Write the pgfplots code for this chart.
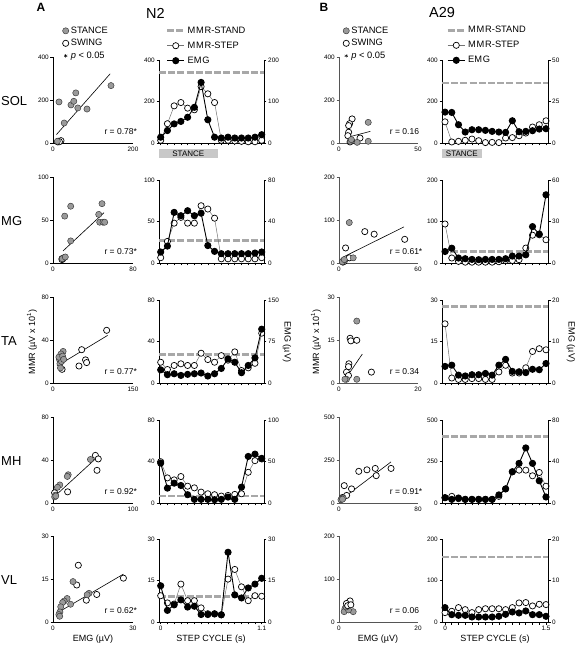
\documentclass[border=0pt]{standalone}
\usepackage{fontspec}
\setmainfont{Liberation Sans}
\usepackage{pgfplots}
\usepackage{pgfplotstable}
\pgfplotsset{compat=1.18}

\newcommand{\tlf}{\fontsize{6.4}{7}\selectfont}
\newcommand{\legfont}{\fontsize{9.3}{10}\selectfont}
\newcommand{\rfont}{\fontsize{8.5}{9}\selectfont}
\newcommand{\labfont}{\fontsize{9}{10}\selectfont}

\definecolor{stgray}{HTML}{9A9A9A}
\definecolor{standgray}{HTML}{A8A8A8}
\definecolor{bargray}{HTML}{C8C8C8}
\definecolor{axgray}{HTML}{555555}

\pgfplotsset{
  base/.style={scale only axis, clip=false, tick align=outside, major tick length=2.5pt,
    tick style={line width=0.6pt, black}, ticklabel style={font=\tlf},
    /pgf/number format/assume math mode=true, /pgf/number format/1000 sep={},
    yticklabel style={inner sep=1.5pt}, xticklabel style={inner sep=1.5pt}},
  scatA/.style={base, width=80pt, height=86pt, axis x line*=bottom, axis y line*=left,
    axis line style={-, line width=0.6pt, black}, xmin=0, ymin=0, major x tick style={draw=none}},
  scatB/.style={base, width=79pt, height=86pt, axis x line*=bottom, axis y line*=left,
    axis line style={-, line width=0.9pt, axgray}, tick style={line width=0.9pt, axgray}, xmin=0, ymin=0, major x tick style={draw=none}},
  tsA/.style={base, width=105pt, height=83pt, xmin=-0.25, xmax=15.34, ymin=0},
  tsB/.style={base, width=106pt, height=83pt, xmin=-0.45, xmax=15.3, ymin=0},
  tsleft/.style={axis x line*=bottom, axis y line*=left, axis line style={-, line width=0.6pt, black}, xtick={0,...,15}, xticklabels={}},
  tsright/.style={axis y line*=right, axis x line=none, axis line style={-, line width=0.6pt, black}},
  stance/.style={only marks, mark=*, mark size=3.1pt, mark options={fill=stgray, draw=black!80, line width=0.45pt}},
  swing/.style={only marks, mark=*, mark size=3.1pt, mark options={fill=white, draw=black, line width=0.7pt}},
  fitl/.style={black, line width=0.6pt, mark=none},
  stand/.style={standgray, line width=2.6pt, dash pattern=on 7pt off 2.2pt, mark=none},
  mstep/.style={black!55, line width=0.5pt, mark=*, mark size=3.1pt, mark options={fill=white, draw=black, line width=0.7pt, solid}},
  emgs/.style={black, line width=0.9pt, mark=*, mark size=3.1pt, mark options={fill=black, draw=black, solid}},
  dotleg/.style={legend image code/.code={\draw[##1] plot coordinates {(3.2pt,0pt)};}},
  scleg/.style={legend style={at={(#1)}, anchor=west, draw=none, fill=none, inner sep=0pt, row sep=0.5pt, font=\legfont}, legend cell align=left},
  tsleg/.style={legend style={at={(#1)}, anchor=west, draw=none, fill=none, inner sep=0pt, row sep=3pt, font=\legfont}, legend cell align=left},
}

% step-cycle bins: k, MMR-STEP (left axis), EMG (right axis)
\pgfplotstableread{
k mmr emg
0 13 14
1 93 30
2 179 46
3 195 52
4 168 62
5 160 86
6 272 146
7 237 56
8 195 14
9 13 12
10 13 14
11 10 12
12 8 12
13 6 12
14 6 14
15 13 20
}\tsSOLA
\pgfplotstableread{
k mmr emg
0 102 18.6
1 5 18.4
2 8 11
3 13 6.6
4 19 8
5 11 8
6 2 7.6
7 3 7
8 2 6.6
9 24 6.4
10 26 13.4
11 35 6.8
12 48 7
13 77 7.4
14 88 8.4
15 107 8.6
}\tsSOLB
\pgfplotstableread{
k mmr emg
0 6.4 10.6
1 26 16.3
2 48 48.8
3 55 45.6
4 48 50.4
5 48 45.6
6 69 48
7 65 16.8
8 54 11.2
9 5 9
10 5 9
11 5 9
12 5 9
13 5 9
14 5 9.6
15 6.4 10.6
}\tsMGA
\pgfplotstableread{
k mmr emg
0 94 8.3
1 12 10.7
2 4 3.6
3 2 3.1
4 2 2.6
5 2 2.4
6 2 2.6
7 2 2.6
8 3 2.6
9 6 3.1
10 6 5
11 8 5
12 36 5.9
13 67 26.3
14 68 20.9
15 56 49.3
}\tsMGB
\pgfplotstableread{
k mmr emg
0 20 23.8
1 13 15
2 16.9 16.7
3 18.5 13.7
4 16.9 15.6
5 16.9 16.7
6 28.7 18
7 22.6 12.6
8 20 16.7
9 26.4 26.3
10 22 43.5
11 30 37.5
12 12 18.6
13 14.6 31.7
14 19 45.4
15 48 97.3
}\tsTAA
\pgfplotstableread{
k mmr emg
0 21.4 4
1 1.8 4.3
2 1.3 1.9
3 1.3 1.7
4 1.6 2
5 1.6 2
6 1.3 2.3
7 1.3 1.9
8 4 4.3
9 6.4 5.7
10 3.6 2.8
11 3.6 2.7
12 5.5 2.5
13 11.4 3.3
14 12.4 3.2
15 12 4.7
}\tsTAB
\pgfplotstableread{
k mmr emg
0 39.8 48.1
1 24.2 17.9
2 22.3 23.9
3 25.5 21.1
4 16.2 10
5 14.6 4.4
6 10.5 4.4
7 8.9 4.4
8 8 4
9 6.7 4.4
10 7.3 7.1
11 8.3 4.4
12 8.9 19.1
13 29.6 56.1
14 40.8 58.9
15 42.4 53.8
}\tsMHA
\pgfplotstableread{
k mmr emg
0 32 5.1
1 40 3.5
2 26 4.8
3 22 3.5
4 22 3.5
5 22 3.5
6 22 3.5
7 22 3.5
8 40 7.8
9 85 13.6
10 188 30.1
11 198 38.2
12 198 53.1
13 164 38.2
14 184 21.4
15 101 5.8
}\tsMHB
\pgfplotstableread{
k mmr emg
0 9.5 13.1
1 6.9 4.2
2 6.5 6.2
3 13.7 8
4 7.7 5.4
5 7.7 5.7
6 5.1 2.7
7 3 2.7
8 3 2.9
9 2.6 2.6
10 15.5 25.2
11 19 9.8
12 12.7 8.7
13 7.7 12.3
14 9.5 13.7
15 9.3 15.8
}\tsVLA
\pgfplotstableread{
k mmr emg
0 22.6 3.47
1 25.8 1.77
2 34.7 1.61
3 29.8 1.61
4 22.6 1.21
5 29.8 1.21
6 32 1.21
7 32 1.21
8 32 1.37
9 29.8 1.85
10 34.7 2.42
11 46 2.18
12 46.8 2.66
13 38.7 1.77
14 42.7 1.77
15 42 1.37
}\tsVLB

\begin{document}
\begin{tikzpicture}
\useasboundingbox (0,0) rectangle (576pt,646pt);

% ---------- titles and labels ----------
\node[font=\bfseries\fontsize{12}{12}\selectfont] at (41pt,639pt) {A};
\node[font=\bfseries\fontsize{12}{12}\selectfont] at (324pt,639pt) {B};
\node[font=\fontsize{14.5}{15}\selectfont] at (155.5pt,632.7pt) {N2};
\node[font=\fontsize{14.5}{15}\selectfont] at (442pt,633pt) {A29};
\node[anchor=west, inner sep=0pt, font=\fontsize{13}{13}\selectfont] at (1pt,545.3pt) {SOL};
\node[anchor=west, inner sep=0pt, font=\fontsize{13}{13}\selectfont] at (1pt,425pt) {MG};
\node[anchor=west, inner sep=0pt, font=\fontsize{13}{13}\selectfont] at (1pt,305pt) {TA};
\node[anchor=west, inner sep=0pt, font=\fontsize{13}{13}\selectfont] at (1pt,185pt) {MH};
\node[anchor=west, inner sep=0pt, font=\fontsize{13}{13}\selectfont] at (1pt,66pt) {VL};
\node[rotate=90, font=\labfont] at (32pt,304pt) {MMR (µV x 10\textsuperscript{1})};
\node[rotate=90, font=\labfont] at (316pt,304pt) {MMR (µV x 10\textsuperscript{1})};
\node[rotate=-90, font=\labfont] at (287pt,304pt) {EMG (µV)};
\node[rotate=-90, font=\labfont] at (571pt,304pt) {EMG (µV)};
\node[font=\labfont] at (93pt,7pt) {EMG (µV)};
\node[font=\labfont] at (211pt,7pt) {STEP CYCLE (s)};
\node[font=\labfont] at (378pt,7pt) {EMG (µV)};
\node[font=\labfont] at (495pt,7pt) {STEP CYCLE (s)};

% ================= ROW 1: SOL =================
\begin{axis}[scatA, at={(53pt,503pt)}, anchor=south west, xmax=200, ymax=400, xtick={0,200}, ytick={0,200,400}, scleg={0.1175,1.159}]
\addlegendimage{stance,dotleg}\addlegendentry{STANCE}
\addlegendimage{swing,dotleg}\addlegendentry{SWING}
\addlegendimage{only marks, mark=asterisk, mark size=1.8pt, black, dotleg}\addlegendentry{\textit{p} < 0.05}
\addplot[swing, forget plot] coordinates {(14,8) (20,11) (12,5) (16,6)};
\addplot[stance, forget plot] coordinates {(15,191) (57,233) (45,177) (52,194) (62,163) (85,158) (145,267) (28,93) (11,8)};
\addplot[fitl, forget plot] coordinates {(8.5,39) (143,322)};
\node[anchor=west, font=\rfont] at (rel axis cs:0.6,0.13) {r = 0.78*};
\end{axis}
\begin{axis}[tsA, tsleft, at={(159pt,503pt)}, anchor=south west, ymax=400, ytick={0,200,400}, tsleg={0.064,1.172}]
\addlegendimage{stand}\addlegendentry{M\kern0.8pt M\kern0.8pt R-STAND}
\addlegendimage{mstep}\addlegendentry{M\kern0.8pt M\kern0.8pt R-STEP}
\addlegendimage{emgs}\addlegendentry{EM\kern0.8pt G}
\fill[bargray] ([yshift=-6pt]axis cs:-0.25,0) rectangle ([yshift=-15.5pt]axis cs:8.5,0);
\node[font=\fontsize{8}{8}\selectfont] at ([yshift=-10.7pt]axis cs:4.1,0) {STANCE};
\addplot[stand, forget plot] coordinates {(-0.25,340) (15.34,340)};
\addplot[mstep, forget plot] table[x=k,y=mmr] {\tsSOLA};
\end{axis}
\begin{axis}[tsA, tsright, at={(159pt,503pt)}, anchor=south west, ymax=200, ytick={0,100,200}]
\addplot[emgs, forget plot] table[x=k,y=emg] {\tsSOLA};
\end{axis}

\begin{axis}[scatB, at={(339pt,503pt)}, anchor=south west, xmax=50, ymax=400, xtick={0,50}, ytick={0,200,400}, scleg={0.05,1.159}]
\addlegendimage{stance,dotleg}\addlegendentry{STANCE}
\addlegendimage{swing,dotleg}\addlegendentry{SWING}
\addlegendimage{only marks, mark=asterisk, mark size=1.8pt, black, dotleg}\addlegendentry{\textit{p} < 0.05}
\addplot[swing, forget plot] coordinates {(8.3,112) (6.7,90) (6.1,81) (13.3,23) (6.1,50) (5.6,34) (7,5) (8,10)};
\addplot[stance, forget plot] coordinates {(18.5,96) (18.5,8) (11.5,3) (7.2,8) (7.8,16)};
\addplot[fitl, forget plot] coordinates {(7.8,31) (19.8,54)};
\node[anchor=west, font=\rfont] at (rel axis cs:0.6,0.13) {r = 0.16};
\end{axis}
\begin{axis}[tsB, tsleft, at={(442pt,503pt)}, anchor=south west, ymax=400, ytick={0,200,400}, tsleg={0.04,1.177}]
\addlegendimage{stand}\addlegendentry{M\kern0.8pt M\kern0.8pt R-STAND}
\addlegendimage{mstep}\addlegendentry{M\kern0.8pt M\kern0.8pt R-STEP}
\addlegendimage{emgs}\addlegendentry{EM\kern0.8pt G}
\fill[bargray] ([yshift=-6pt]axis cs:-0.45,0) rectangle ([yshift=-15.5pt]axis cs:5.54,0);
\node[font=\fontsize{8}{8}\selectfont] at ([yshift=-10.7pt]axis cs:2.5,0) {STANCE};
\addplot[stand, forget plot] coordinates {(-0.45,290) (15.3,290)};
\addplot[mstep, forget plot] table[x=k,y=mmr] {\tsSOLB};
\end{axis}
\begin{axis}[tsB, tsright, at={(442pt,503pt)}, anchor=south west, ymax=50, ytick={0,25,50}]
\addplot[emgs, forget plot] table[x=k,y=emg] {\tsSOLB};
\end{axis}

% ================= ROW 2: MG =================
\begin{axis}[scatA, at={(53pt,383pt)}, anchor=south west, xmax=80, ymax=100, xtick={0,80}, ytick={0,50,100}]
\addplot[swing, forget plot] coordinates {(9,5) (9,4) (10,5)};
\addplot[stance, forget plot] coordinates {(11.7,54.5) (17.7,66) (17.7,25.7) (49,69) (45.7,56.5) (46.7,47.4) (50,47.4) (51.7,47.4) (11,6.3) (9.3,5) (12.3,7)};
\addplot[fitl, forget plot] coordinates {(10,14) (51,58.5)};
\node[anchor=west, font=\rfont] at (rel axis cs:0.6,0.13) {r = 0.73*};
\end{axis}
\begin{axis}[tsA, tsleft, at={(159pt,383pt)}, anchor=south west, ymax=100, ytick={0,50,100}]
\addplot[stand, forget plot] coordinates {(-0.25,27) (15.34,27)};
\addplot[mstep, forget plot] table[x=k,y=mmr] {\tsMGA};
\end{axis}
\begin{axis}[tsA, tsright, at={(159pt,383pt)}, anchor=south west, ymax=80, ytick={0,40,80}]
\addplot[emgs, forget plot] table[x=k,y=emg] {\tsMGA};
\end{axis}

\begin{axis}[scatB, at={(339pt,383pt)}, anchor=south west, xmax=60, ymax=200, xtick={0,60}, ytick={0,100,200}]
\addplot[swing, forget plot] coordinates {(5,35) (7.8,12) (19.6,73) (26.7,67) (49.9,55) (3,2) (4,4)};
\addplot[stance, forget plot] coordinates {(7.8,94) (10.8,12) (3.3,6) (2.5,3) (4,8)};
\addplot[fitl, forget plot] coordinates {(3.3,14) (49.4,84)};
\node[anchor=west, font=\rfont] at (rel axis cs:0.6,0.13) {r = 0.61*};
\end{axis}
\begin{axis}[tsB, tsleft, at={(442pt,383pt)}, anchor=south west, ymax=200, ytick={0,100,200}]
\addplot[stand, forget plot] coordinates {(-0.45,27) (15.3,27)};
\addplot[mstep, forget plot] table[x=k,y=mmr] {\tsMGB};
\end{axis}
\begin{axis}[tsB, tsright, at={(442pt,383pt)}, anchor=south west, ymax=60, ytick={0,30,60}]
\addplot[emgs, forget plot] table[x=k,y=emg] {\tsMGB};
\end{axis}

% ================= ROW 3: TA =================
\begin{axis}[scatA, at={(53pt,263pt)}, anchor=south west, xmax=150, ymax=80, xtick={0,150}, ytick={0,40,80}]
\addplot[swing, forget plot] coordinates {(100.6,49) (53.8,31) (61,21.5) (63,19) (48.7,15.8) (17,12.7)};
\addplot[stance, forget plot] coordinates {(19,29.4) (15,27) (12,22) (13,18) (16,20) (11,24) (18,25) (14,14) (20,22)};
\addplot[fitl, forget plot] coordinates {(7.6,15.8) (102.5,44.3)};
\node[anchor=west, font=\rfont] at (rel axis cs:0.6,0.13) {r = 0.77*};
\end{axis}
\begin{axis}[tsA, tsleft, at={(159pt,263pt)}, anchor=south west, ymax=80, ytick={0,40,80}]
\addplot[stand, forget plot] coordinates {(-0.25,27.4) (15.34,27.4)};
\addplot[mstep, forget plot] table[x=k,y=mmr] {\tsTAA};
\end{axis}
\begin{axis}[tsA, tsright, at={(159pt,263pt)}, anchor=south west, ymax=150, ytick={0,75,150}]
\addplot[emgs, forget plot] table[x=k,y=emg] {\tsTAA};
\end{axis}

\begin{axis}[scatB, at={(339pt,263pt)}, anchor=south west, xmax=20, ymax=30, xtick={0,20}, ytick={0,15,30}]
\addplot[swing, forget plot] coordinates {(2.8,15.6) (3,14.7) (4.5,14.9) (2.5,6.7) (2.4,5.7) (1.9,3.8) (8.2,3.8) (2.4,2.6)};
\addplot[stance, forget plot] coordinates {(4.5,21.6) (1.9,1.3) (4.5,1.3) (1.5,1.3)};
\addplot[fitl, forget plot] coordinates {(2.2,2.6) (5.9,10.1)};
\node[anchor=west, font=\rfont] at (rel axis cs:0.6,0.13) {r = 0.34};
\end{axis}
\begin{axis}[tsB, tsleft, at={(442pt,263pt)}, anchor=south west, ymax=30, ytick={0,15,30}]
\addplot[stand, forget plot] coordinates {(-0.45,27.6) (15.3,27.6)};
\addplot[mstep, forget plot] table[x=k,y=mmr] {\tsTAB};
\end{axis}
\begin{axis}[tsB, tsright, at={(442pt,263pt)}, anchor=south west, ymax=20, ytick={0,10,20}]
\addplot[emgs, forget plot] table[x=k,y=emg] {\tsTAB};
\end{axis}

% ================= ROW 4: MH =================
\begin{axis}[scatA, at={(53pt,143pt)}, anchor=south west, xmax=100, ymax=80, xtick={0,100}, ytick={0,40,80}]
\addplot[swing, forget plot] coordinates {(53,44.3) (56.6,41) (55,30.4) (2,9.5) (18.3,10.4)};
\addplot[stance, forget plot] coordinates {(46.8,40.5) (19,26.3) (17.9,24.7) (8.5,16.8) (5.5,14.6) (3,7.3) (2,5.7) (3.5,6.5)};
\addplot[fitl, forget plot] coordinates {(1.3,5.7) (53,41)};
\node[anchor=west, font=\rfont] at (rel axis cs:0.6,0.13) {r = 0.92*};
\end{axis}
\begin{axis}[tsA, tsleft, at={(159pt,143pt)}, anchor=south west, ymax=80, ytick={0,40,80}]
\addplot[stand, forget plot] coordinates {(-0.25,6.7) (15.34,6.7)};
\addplot[mstep, forget plot] table[x=k,y=mmr] {\tsMHA};
\end{axis}
\begin{axis}[tsA, tsright, at={(159pt,143pt)}, anchor=south west, ymax=100, ytick={0,50,100}]
\addplot[emgs, forget plot] table[x=k,y=emg] {\tsMHA};
\end{axis}

\begin{axis}[scatB, at={(339pt,143pt)}, anchor=south west, xmax=80, ymax=500, xtick={0,80}, ytick={0,250,500}]
\addplot[swing, forget plot] coordinates {(20,184) (28.3,193) (36.7,201) (37.7,159) (52.7,201) (5.3,101) (12.7,82) (7.7,44) (3.5,32)};
\addplot[stance, forget plot] coordinates {(2.7,25) (4.3,29) (2,19) (3.5,22)};
\addplot[fitl, forget plot] coordinates {(2,19) (52.7,239)};
\node[anchor=west, font=\rfont] at (rel axis cs:0.6,0.13) {r = 0.91*};
\end{axis}
\begin{axis}[tsB, tsleft, at={(442pt,143pt)}, anchor=south west, ymax=500, ytick={0,250,500}]
\addplot[stand, forget plot] coordinates {(-0.45,400) (15.3,400)};
\addplot[mstep, forget plot] table[x=k,y=mmr] {\tsMHB};
\end{axis}
\begin{axis}[tsB, tsright, at={(442pt,143pt)}, anchor=south west, ymax=80, ytick={0,40,80}]
\addplot[emgs, forget plot] table[x=k,y=emg] {\tsMHB};
\end{axis}

% ================= ROW 5: VL =================
\begin{axis}[scatA, at={(53pt,24pt)}, anchor=south west, xmax=30, ymax=30, xtick={0,30}, ytick={0,15,30}]
\addplot[swing, forget plot] coordinates {(9.5,19.8) (26.4,15.3) (8.9,12.9) (16.4,9.6) (12.5,7.6)};
\addplot[stance, forget plot] coordinates {(7.5,14.1) (13.5,10) (5.3,8.2) (4.2,7.3) (3.6,6.8) (2.9,5.3) (6.6,6.2) (2.6,3.5) (2.2,2.6) (2.5,2) (12.8,9.5)};
\addplot[fitl, forget plot] coordinates {(2.2,3.5) (26.4,16.7)};
\node[anchor=west, font=\rfont] at (rel axis cs:0.6,0.13) {r = 0.62*};
\end{axis}
\begin{axis}[tsA, tsleft, at={(159pt,24pt)}, anchor=south west, ymax=30, ytick={0,15,30}, xticklabels={0,,,,,,,,,,,,,,,1.1}]
\addplot[stand, forget plot] coordinates {(-0.25,9.2) (15.34,9.2)};
\addplot[mstep, forget plot] table[x=k,y=mmr] {\tsVLA};
\end{axis}
\begin{axis}[tsA, tsright, at={(159pt,24pt)}, anchor=south west, ymax=30, ytick={0,15,30}]
\addplot[emgs, forget plot] table[x=k,y=emg] {\tsVLA};
\end{axis}

\begin{axis}[scatB, at={(339pt,24pt)}, anchor=south west, xmax=20, ymax=200, xtick={0,20}, ytick={0,100,200}]
\addplot[stance, forget plot] coordinates {(1.5,31) (1.3,24) (3.6,24) (2.4,28) (1.8,35)};
\addplot[swing, forget plot] coordinates {(2.4,45) (2.8,49) (1.9,43) (2.2,38) (3,40)};
\addplot[fitl, forget plot] coordinates {(1.5,30) (2.8,36)};
\node[anchor=west, font=\rfont] at (rel axis cs:0.6,0.13) {r = 0.06};
\end{axis}
\begin{axis}[tsB, tsleft, at={(442pt,24pt)}, anchor=south west, ymax=200, ytick={0,100,200}, xticklabels={0,,,,,,,,,,,,,,,1.5}]
\addplot[stand, forget plot] coordinates {(-0.45,157) (15.3,157)};
\addplot[mstep, forget plot] table[x=k,y=mmr] {\tsVLB};
\end{axis}
\begin{axis}[tsB, tsright, at={(442pt,24pt)}, anchor=south west, ymax=20, ytick={0,10,20}]
\addplot[emgs, forget plot] table[x=k,y=emg] {\tsVLB};
\end{axis}

\end{tikzpicture}
\end{document}
